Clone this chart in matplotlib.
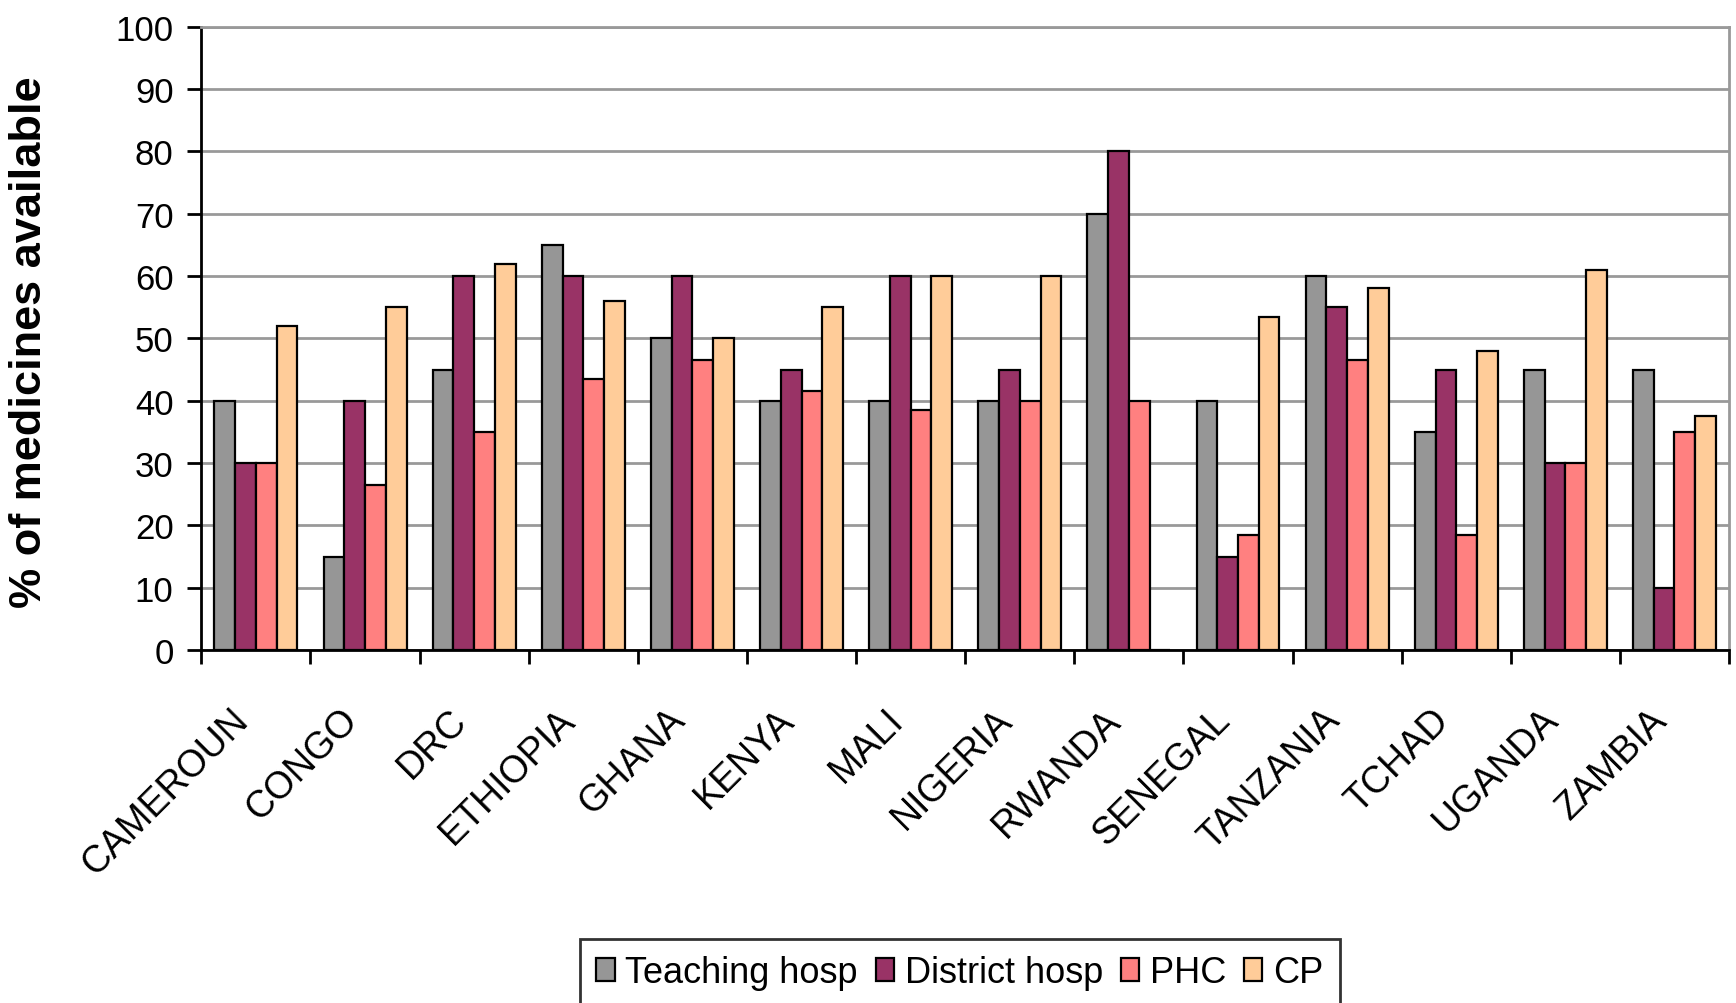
import numpy as np
import matplotlib.pyplot as plt
from matplotlib.ticker import FixedLocator
from matplotlib.transforms import ScaledTranslation

plt.rcParams['font.family'] = ['Liberation Sans', 'DejaVu Sans']

# data
countries = ["CAMEROUN", "CONGO", "DRC", "ETHIOPIA", "GHANA", "KENYA", "MALI",
             "NIGERIA", "RWANDA", "SENEGAL", "TANZANIA", "TCHAD", "UGANDA", "ZAMBIA"]
teaching = [40, 15, 45, 65, 50, 40, 40, 40, 70, 40, 60, 35, 45, 45]
district = [30, 40, 60, 60, 60, 45, 60, 45, 80, 15, 55, 45, 30, 10]
phc = [30, 26.5, 35, 43.5, 46.5, 41.5, 38.5, 40, 40, 18.5, 46.5, 18.5, 30, 35]
cp = [52, 55, 62, 56, 50, 55, 60, 60, 0, 53.5, 58, 48, 61, 37.5]

series = [("Teaching hosp", teaching, "#969696"),
          ("District hosp", district, "#993366"),
          ("PHC", phc, "#FF8080"),
          ("CP", cp, "#FFCC99")]

fig = plt.figure(figsize=(17.36, 10.04), dpi=100)
ax = fig.add_axes([0.116, 0.3516, 0.88, 0.6208])

x = np.arange(len(countries))
w = 0.19
for i, (name, vals, col) in enumerate(series):
    ax.bar(x + (i - 1.5) * w, vals, w, color=col, edgecolor="black",
           linewidth=1.6, label=name, zorder=3)

ax.set_xlim(-0.5, len(countries) - 0.5)
ax.set_ylim(0, 100)
ax.set_yticks(range(0, 101, 10))
ax.yaxis.grid(True, color="#999999", linewidth=2, zorder=0)

# ticks between categories, names centred under the groups
ax.xaxis.set_major_locator(FixedLocator(np.arange(-0.5, len(countries) + 0.5, 1)))
ax.set_xticklabels([], minor=False)
ax.set_xticks(x, minor=True)
ax.set_xticklabels(countries, minor=True, rotation=45, ha="right",
                   rotation_mode="anchor", fontsize=27)
ax.tick_params(axis="x", which="minor", length=0, pad=37)
ax.tick_params(axis="x", which="major", length=10, width=2, direction="out")
ax.tick_params(axis="y", length=10, width=2, direction="out", labelsize=25, pad=10)

shift = ScaledTranslation(-26 / 100, 0, fig.dpi_scale_trans)
for lab in ax.get_xticklabels(minor=True):
    lab.set_transform(lab.get_transform() + shift)

ax.spines["left"].set_linewidth(2)
ax.spines["bottom"].set_linewidth(2)
ax.spines["top"].set_color("#999999")
ax.spines["top"].set_linewidth(2)
ax.spines["right"].set_color("#999999")
ax.spines["right"].set_linewidth(2)

ax.set_ylabel("% of medicines available", fontsize=32.5, fontweight="bold")
ax.yaxis.set_label_coords(-0.099, 0.496)

leg = fig.legend(loc="upper center", bbox_to_anchor=(0.553, 0.064), ncol=4, fontsize=26,
                 frameon=True, fancybox=False, edgecolor="black", handlelength=0.5,
                 handleheight=0.6, handletextpad=0.3, columnspacing=0.5,
                 borderpad=0.45, borderaxespad=0)
leg.get_frame().set_linewidth(2)

fig.savefig("out.png", dpi=100)
